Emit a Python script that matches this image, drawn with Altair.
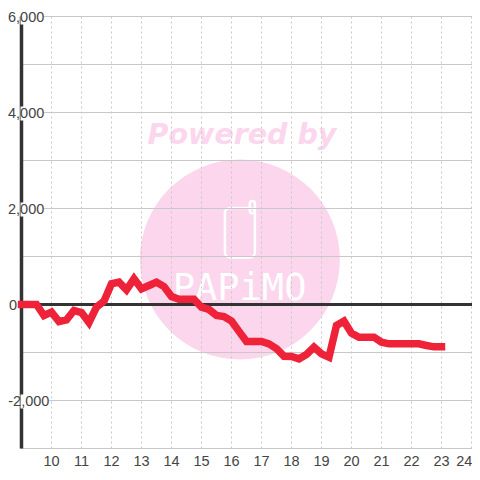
import altair as alt
import pandas as pd

hours = [9 + i * 0.25 for i in range(57)]
balance = [0, 0, 0, -229, -160, -354, -320, -125, -167, -375, -56, 70, 431, 465, 306, 535,
           326, 396, 465, 375, 167, 111, 111, 111, -56, -104, -229, -250, -347, -560, -771, -771,
           -771, -820, -920, -1077, -1083, -1132, -1042, -889, -1028, -1098, -437, -347, -597, -681,
           -681, -681, -785, -819, -819, -819, -819, -819, -854, -882, -882]
x_ticks = list(range(10, 25))
x_tick_text = [str(v) for v in x_ticks]
x_tick_anchor = x_ticks[:-1] + [23.76]
y_grid = [-3000, -2000, -1000, 0, 1000, 2000, 3000, 4000, 5000, 6000]
y_labels = [6000, 4000, 2000, 0, -2000]
y_label_text = ["6,000", "4,000", "2,000", "0", "-2,000"]
y_label_right = [9.76, 9.76, 9.76, 8.85, 9.93]

X_DOM = [8.967, 24.017]
Y_DOM = [-3000, 6000]
INK = "#444444"
PINK = "#fbd6ec"
FONT = "Liberation Sans"

xs = alt.Scale(domain=X_DOM, nice=False, zero=False)
ys = alt.Scale(domain=Y_DOM, nice=False, zero=False)
X = lambda f: alt.X(f, type="quantitative", scale=xs, axis=None)
Y = lambda f: alt.Y(f, type="quantitative", scale=ys, axis=None)

circle = alt.Chart(pd.DataFrame({"x": [16.28], "y": [937]})).mark_circle(
    size=40000, color=PINK, opacity=1
).encode(x=X("x"), y=Y("y"))

powered = alt.Chart(pd.DataFrame({"x": [16.35], "y": [3540], "t": ["Powered by"]})).mark_text(
    font="DejaVu Sans", fontSize=28.5, fontWeight="bold", fontStyle="italic",
    color=PINK, baseline="middle", align="center"
).encode(x=X("x"), y=Y("y"), text="t:N")

brand = alt.Chart(pd.DataFrame({"x": [16.27], "y": [330], "t": ["PAPiMO"]})).mark_text(
    font="DejaVu Sans Mono", fontSize=37, color="#ffffff", baseline="middle", align="center"
).encode(x=X("x"), y=Y("y"), text="t:N")

phone = alt.Chart(pd.DataFrame({"x": [15.78], "x2": [16.78], "y": [2010], "y2": [979]})).mark_rect(
    fillOpacity=0, stroke="#ffffff", strokeWidth=2.5, cornerRadius=5
).encode(x=X("x"), x2="x2", y=Y("y"), y2="y2")

antenna = alt.Chart(pd.DataFrame({"x": [16.61], "x2": [16.78], "y": [2156], "y2": [1900]})).mark_rect(
    fillOpacity=0, stroke="#ffffff", strokeWidth=2.5, cornerRadius=2.5
).encode(x=X("x"), x2="x2", y=Y("y"), y2="y2")

xgrid = alt.Chart(pd.DataFrame({"x": x_ticks})).mark_rule(
    stroke="#c8c8c8", strokeWidth=1, strokeDash=[2, 3]
).encode(x=X("x"))

xlabels = alt.Chart(pd.DataFrame({"x": x_tick_anchor, "t": x_tick_text})).mark_text(
    font=FONT, fontSize=14.5, color=INK, align="center", baseline="middle"
).encode(x=X("x"), y=alt.value(445), text="t:N")

ygrid = alt.Chart(pd.DataFrame({"y": y_grid})).mark_rule(stroke="#c8c8c8", strokeWidth=1).encode(y=Y("y"))

axis_line = alt.Chart(pd.DataFrame({"x": [9.0]})).mark_rule(stroke="#333333", strokeWidth=3.5).encode(x=X("x"))
zero_line = alt.Chart(pd.DataFrame({"y": [0]})).mark_rule(stroke="#333333", strokeWidth=3).encode(y=Y("y"))

labels = pd.DataFrame({"y": y_labels, "t": y_label_text, "xr": y_label_right})
labels["y_top"] = labels["y"] + 125
labels["y_bot"] = labels["y"] - 167
labels["x_l"] = X_DOM[0]

label_box = alt.Chart(labels[labels["y"] != 0]).mark_rect(color="#ffffff").encode(
    x=X("x_l"), x2="xr", y=Y("y_top"), y2="y_bot"
)
label_text = alt.Chart(labels).mark_text(
    font=FONT, fontSize=14.5, color=INK, align="right", baseline="middle", dy=1
).encode(x=X("xr"), y=Y("y"), text="t:N")

series = alt.Chart(pd.DataFrame({"h": hours, "v": balance})).mark_line(
    color="#ee2238", strokeWidth=7.5, strokeCap="square"
).encode(x=X("h"), y=Y("v"))

chart = alt.layer(
    circle, powered, brand, phone, antenna, xgrid, ygrid, axis_line, zero_line,
    label_box, label_text, xlabels, series
).properties(
    width=451.5, height=432,
    padding={"left": 12.5, "top": 8.5, "right": 0, "bottom": 21.5},
    autosize=alt.AutoSizeParams(type="none"),
    background="#ffffff",
).configure_view(stroke=None)

chart.save("out.html", embed_options={"renderer": "svg", "actions": False})
